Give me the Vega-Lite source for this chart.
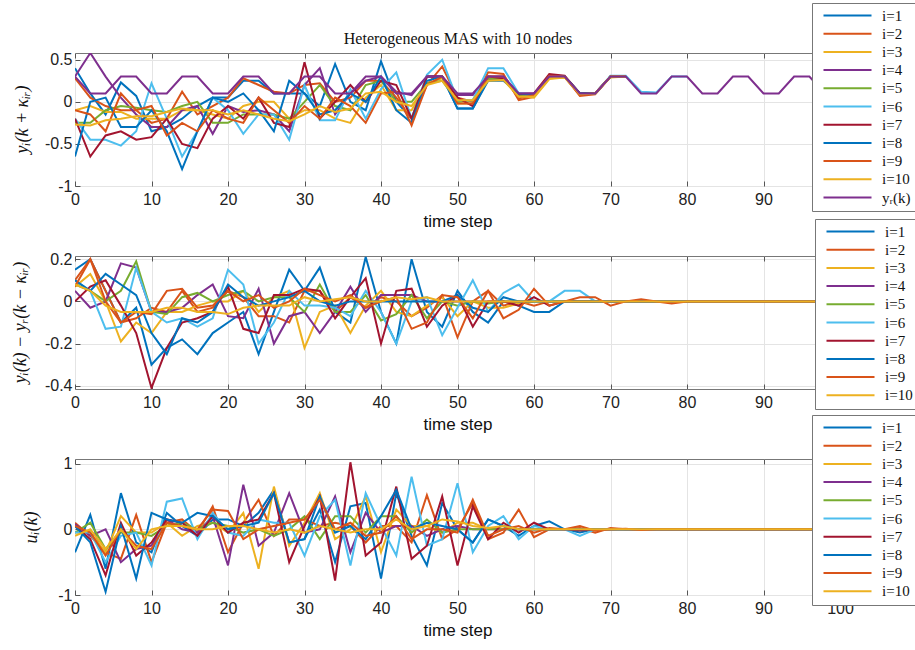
{
"$schema": "https://vega.github.io/schema/vega-lite/v6.json",
"background": "white",
"padding": {"left": 10, "top": 2, "right": 0, "bottom": 5},
"spacing": 70,
"bounds": "flush",
"config": {
 "view": {"stroke": "#777777", "strokeWidth": 1},
 "axis": {"grid": true, "gridColor": "#e4e4e4", "domain": false, "tickColor": "#555555", "tickSize": -5, "labelFlush": false, "labelFont": "Liberation Sans", "labelFontSize": 16, "labelColor": "#222222", "titleFont": "Liberation Sans", "titleFontSize": 17, "titleFontWeight": "normal", "titleColor": "#111111"},
 "legend": {"orient": "none", "title": null, "labelFont": "Liberation Serif", "labelFontSize": 15, "labelColor": "#111111", "symbolType": "M-0.5,0L23.5,0", "symbolSize": 16, "symbolStrokeWidth": 2, "symbolFillColor": "transparent", "strokeColor": "#777777", "fillColor": "white", "padding": 5, "rowPadding": 2.2, "labelOffset": 50},
 "line": {"strokeWidth": 2}
},
"resolve": {"scale": {"color": "independent"}, "legend": {"color": "independent"}},
"datasets": {
"y": [
{"s":1,"t":0,"v":0.4},{"s":1,"t":2,"v":0.1},{"s":1,"t":4,"v":-0.15},{"s":1,"t":6,"v":0.23},{"s":1,"t":8,"v":0.07},{"s":1,"t":10,"v":-0.35},{"s":1,"t":12,"v":-0.3},{"s":1,"t":14,"v":-0.2},{"s":1,"t":16,"v":-0.05},{"s":1,"t":18,"v":0.05},{"s":1,"t":20,"v":0.05},{"s":1,"t":22,"v":0.25},{"s":1,"t":24,"v":0.25},{"s":1,"t":26,"v":0.1},{"s":1,"t":28,"v":0.1},{"s":1,"t":30,"v":0.1},{"s":1,"t":32,"v":-0.05},{"s":1,"t":34,"v":0.45},{"s":1,"t":36,"v":0},{"s":1,"t":38,"v":-0.1},{"s":1,"t":40,"v":0.48},{"s":1,"t":42,"v":0},{"s":1,"t":44,"v":-0.2},{"s":1,"t":46,"v":0.3},{"s":1,"t":48,"v":0.3},{"s":1,"t":50,"v":-0.08},{"s":1,"t":52,"v":-0.08},{"s":1,"t":54,"v":0.27},{"s":1,"t":56,"v":0.27},{"s":1,"t":58,"v":0.08},{"s":1,"t":60,"v":0.08},{"s":1,"t":62,"v":0.29},{"s":1,"t":64,"v":0.3},{"s":1,"t":66,"v":0.1},{"s":1,"t":68,"v":0.1},{"s":1,"t":70,"v":0.3},{"s":1,"t":72,"v":0.3},
{"s":2,"t":0,"v":0.28},{"s":2,"t":2,"v":0.05},{"s":2,"t":4,"v":-0.05},{"s":2,"t":6,"v":-0.1},{"s":2,"t":8,"v":-0.1},{"s":2,"t":10,"v":-0.25},{"s":2,"t":12,"v":-0.2},{"s":2,"t":14,"v":0.12},{"s":2,"t":16,"v":-0.15},{"s":2,"t":18,"v":-0.05},{"s":2,"t":20,"v":0.05},{"s":2,"t":22,"v":0.28},{"s":2,"t":24,"v":0.2},{"s":2,"t":26,"v":0.12},{"s":2,"t":28,"v":0.1},{"s":2,"t":30,"v":0.2},{"s":2,"t":32,"v":0.22},{"s":2,"t":34,"v":0},{"s":2,"t":36,"v":0.05},{"s":2,"t":38,"v":0.25},{"s":2,"t":40,"v":0.25},{"s":2,"t":42,"v":0.05},{"s":2,"t":44,"v":-0.2},{"s":2,"t":46,"v":0.2},{"s":2,"t":48,"v":0.42},{"s":2,"t":50,"v":0.05},{"s":2,"t":52,"v":0},{"s":2,"t":54,"v":0.35},{"s":2,"t":56,"v":0.33},{"s":2,"t":58,"v":0.02},{"s":2,"t":60,"v":0.06},{"s":2,"t":62,"v":0.32},{"s":2,"t":64,"v":0.3},{"s":2,"t":66,"v":0.07},{"s":2,"t":68,"v":0.09},{"s":2,"t":70,"v":0.3},{"s":2,"t":72,"v":0.3},
{"s":3,"t":0,"v":-0.1},{"s":3,"t":2,"v":-0.05},{"s":3,"t":4,"v":-0.12},{"s":3,"t":6,"v":-0.12},{"s":3,"t":8,"v":-0.2},{"s":3,"t":10,"v":-0.2},{"s":3,"t":12,"v":-0.2},{"s":3,"t":14,"v":-0.1},{"s":3,"t":16,"v":-0.1},{"s":3,"t":18,"v":-0.15},{"s":3,"t":20,"v":-0.2},{"s":3,"t":22,"v":-0.05},{"s":3,"t":24,"v":0},{"s":3,"t":26,"v":0},{"s":3,"t":28,"v":-0.2},{"s":3,"t":30,"v":-0.1},{"s":3,"t":32,"v":-0.1},{"s":3,"t":34,"v":-0.2},{"s":3,"t":36,"v":-0.25},{"s":3,"t":38,"v":0.05},{"s":3,"t":40,"v":0.2},{"s":3,"t":42,"v":-0.1},{"s":3,"t":44,"v":-0.1},{"s":3,"t":46,"v":0.22},{"s":3,"t":48,"v":0.28},{"s":3,"t":50,"v":-0.02},{"s":3,"t":52,"v":-0.02},{"s":3,"t":54,"v":0.25},{"s":3,"t":56,"v":0.27},{"s":3,"t":58,"v":0.07},{"s":3,"t":60,"v":0.05},{"s":3,"t":62,"v":0.27},{"s":3,"t":64,"v":0.29},{"s":3,"t":66,"v":0.09},{"s":3,"t":68,"v":0.1},{"s":3,"t":70,"v":0.29},{"s":3,"t":72,"v":0.3},
{"s":4,"t":0,"v":0.3},{"s":4,"t":2,"v":0.58},{"s":4,"t":4,"v":0.3},{"s":4,"t":6,"v":0.05},{"s":4,"t":8,"v":-0.15},{"s":4,"t":10,"v":-0.3},{"s":4,"t":12,"v":-0.3},{"s":4,"t":14,"v":-0.1},{"s":4,"t":16,"v":-0.05},{"s":4,"t":18,"v":-0.38},{"s":4,"t":20,"v":-0.05},{"s":4,"t":22,"v":-0.12},{"s":4,"t":24,"v":-0.1},{"s":4,"t":26,"v":-0.15},{"s":4,"t":28,"v":-0.35},{"s":4,"t":30,"v":0.2},{"s":4,"t":32,"v":0.4},{"s":4,"t":34,"v":-0.15},{"s":4,"t":36,"v":0.1},{"s":4,"t":38,"v":0.25},{"s":4,"t":40,"v":0.3},{"s":4,"t":42,"v":0.12},{"s":4,"t":44,"v":0.08},{"s":4,"t":46,"v":0.3},{"s":4,"t":48,"v":0.3},{"s":4,"t":50,"v":0.08},{"s":4,"t":52,"v":0.08},{"s":4,"t":54,"v":0.3},{"s":4,"t":56,"v":0.3},{"s":4,"t":58,"v":0.1},{"s":4,"t":60,"v":0.1},{"s":4,"t":62,"v":0.3},{"s":4,"t":64,"v":0.3},{"s":4,"t":66,"v":0.1},{"s":4,"t":68,"v":0.1},{"s":4,"t":70,"v":0.3},{"s":4,"t":72,"v":0.3},
{"s":5,"t":0,"v":-0.25},{"s":5,"t":2,"v":-0.25},{"s":5,"t":4,"v":-0.1},{"s":5,"t":6,"v":-0.05},{"s":5,"t":8,"v":-0.07},{"s":5,"t":10,"v":-0.1},{"s":5,"t":12,"v":-0.12},{"s":5,"t":14,"v":-0.05},{"s":5,"t":16,"v":0},{"s":5,"t":18,"v":-0.25},{"s":5,"t":20,"v":-0.25},{"s":5,"t":22,"v":-0.15},{"s":5,"t":24,"v":-0.15},{"s":5,"t":26,"v":-0.15},{"s":5,"t":28,"v":-0.2},{"s":5,"t":30,"v":0},{"s":5,"t":32,"v":0.2},{"s":5,"t":34,"v":-0.05},{"s":5,"t":36,"v":-0.1},{"s":5,"t":38,"v":0.2},{"s":5,"t":40,"v":0.25},{"s":5,"t":42,"v":0},{"s":5,"t":44,"v":0},{"s":5,"t":46,"v":0.22},{"s":5,"t":48,"v":0.25},{"s":5,"t":50,"v":0},{"s":5,"t":52,"v":0.02},{"s":5,"t":54,"v":0.27},{"s":5,"t":56,"v":0.27},{"s":5,"t":58,"v":0.08},{"s":5,"t":60,"v":0.09},{"s":5,"t":62,"v":0.29},{"s":5,"t":64,"v":0.3},{"s":5,"t":66,"v":0.1},{"s":5,"t":68,"v":0.1},{"s":5,"t":70,"v":0.3},{"s":5,"t":72,"v":0.3},
{"s":6,"t":0,"v":-0.2},{"s":6,"t":2,"v":-0.45},{"s":6,"t":4,"v":-0.45},{"s":6,"t":6,"v":-0.52},{"s":6,"t":8,"v":-0.35},{"s":6,"t":10,"v":0.22},{"s":6,"t":12,"v":-0.2},{"s":6,"t":14,"v":-0.65},{"s":6,"t":16,"v":-0.35},{"s":6,"t":18,"v":0.05},{"s":6,"t":20,"v":-0.1},{"s":6,"t":22,"v":-0.38},{"s":6,"t":24,"v":-0.15},{"s":6,"t":26,"v":-0.15},{"s":6,"t":28,"v":-0.45},{"s":6,"t":30,"v":0.2},{"s":6,"t":32,"v":-0.22},{"s":6,"t":34,"v":-0.22},{"s":6,"t":36,"v":0.15},{"s":6,"t":38,"v":-0.2},{"s":6,"t":40,"v":0.15},{"s":6,"t":42,"v":0.35},{"s":6,"t":44,"v":-0.2},{"s":6,"t":46,"v":0.32},{"s":6,"t":48,"v":0.5},{"s":6,"t":50,"v":0.02},{"s":6,"t":52,"v":0.02},{"s":6,"t":54,"v":0.4},{"s":6,"t":56,"v":0.4},{"s":6,"t":58,"v":0.1},{"s":6,"t":60,"v":0.08},{"s":6,"t":62,"v":0.3},{"s":6,"t":64,"v":0.3},{"s":6,"t":66,"v":0.09},{"s":6,"t":68,"v":0.1},{"s":6,"t":70,"v":0.31},{"s":6,"t":72,"v":0.31},{"s":6,"t":74,"v":0.12},{"s":6,"t":76,"v":0.11},{"s":6,"t":78,"v":0.3},{"s":6,"t":80,"v":0.3},
{"s":7,"t":0,"v":-0.2},{"s":7,"t":2,"v":-0.65},{"s":7,"t":4,"v":-0.4},{"s":7,"t":6,"v":-0.35},{"s":7,"t":8,"v":-0.45},{"s":7,"t":10,"v":-0.42},{"s":7,"t":12,"v":-0.2},{"s":7,"t":14,"v":-0.5},{"s":7,"t":16,"v":-0.55},{"s":7,"t":18,"v":-0.2},{"s":7,"t":20,"v":-0.05},{"s":7,"t":22,"v":-0.2},{"s":7,"t":24,"v":0.05},{"s":7,"t":26,"v":-0.25},{"s":7,"t":28,"v":-0.3},{"s":7,"t":30,"v":0.47},{"s":7,"t":32,"v":-0.2},{"s":7,"t":34,"v":0},{"s":7,"t":36,"v":0.2},{"s":7,"t":38,"v":0},{"s":7,"t":40,"v":0.25},{"s":7,"t":42,"v":0.2},{"s":7,"t":44,"v":-0.2},{"s":7,"t":46,"v":0.3},{"s":7,"t":48,"v":0.3},{"s":7,"t":50,"v":0.05},{"s":7,"t":52,"v":-0.05},{"s":7,"t":54,"v":0.3},{"s":7,"t":56,"v":0.28},{"s":7,"t":58,"v":0.09},{"s":7,"t":60,"v":0.1},{"s":7,"t":62,"v":0.33},{"s":7,"t":64,"v":0.31},{"s":7,"t":66,"v":0.1},{"s":7,"t":68,"v":0.1},{"s":7,"t":70,"v":0.3},{"s":7,"t":72,"v":0.3},
{"s":8,"t":0,"v":-0.65},{"s":8,"t":2,"v":0},{"s":8,"t":4,"v":0.05},{"s":8,"t":6,"v":-0.3},{"s":8,"t":8,"v":-0.3},{"s":8,"t":10,"v":-0.1},{"s":8,"t":12,"v":-0.35},{"s":8,"t":14,"v":-0.8},{"s":8,"t":16,"v":-0.35},{"s":8,"t":18,"v":0.05},{"s":8,"t":20,"v":0},{"s":8,"t":22,"v":0.1},{"s":8,"t":24,"v":-0.1},{"s":8,"t":26,"v":-0.35},{"s":8,"t":28,"v":0.25},{"s":8,"t":30,"v":0.1},{"s":8,"t":32,"v":-0.15},{"s":8,"t":34,"v":-0.1},{"s":8,"t":36,"v":0.1},{"s":8,"t":38,"v":0},{"s":8,"t":40,"v":0.3},{"s":8,"t":42,"v":-0.1},{"s":8,"t":44,"v":-0.25},{"s":8,"t":46,"v":0.25},{"s":8,"t":48,"v":0.3},{"s":8,"t":50,"v":-0.08},{"s":8,"t":52,"v":-0.08},{"s":8,"t":54,"v":0.25},{"s":8,"t":56,"v":0.25},{"s":8,"t":58,"v":0.1},{"s":8,"t":60,"v":0.09},{"s":8,"t":62,"v":0.3},{"s":8,"t":64,"v":0.3},{"s":8,"t":66,"v":0.1},{"s":8,"t":68,"v":0.1},{"s":8,"t":70,"v":0.3},{"s":8,"t":72,"v":0.3},
{"s":9,"t":0,"v":-0.1},{"s":9,"t":2,"v":-0.15},{"s":9,"t":4,"v":-0.35},{"s":9,"t":6,"v":0.1},{"s":9,"t":8,"v":-0.1},{"s":9,"t":10,"v":-0.05},{"s":9,"t":12,"v":-0.4},{"s":9,"t":14,"v":-0.25},{"s":9,"t":16,"v":-0.35},{"s":9,"t":18,"v":-0.1},{"s":9,"t":20,"v":-0.2},{"s":9,"t":22,"v":-0.25},{"s":9,"t":24,"v":0.05},{"s":9,"t":26,"v":-0.1},{"s":9,"t":28,"v":-0.25},{"s":9,"t":30,"v":-0.05},{"s":9,"t":32,"v":-0.2},{"s":9,"t":34,"v":0.05},{"s":9,"t":36,"v":-0.05},{"s":9,"t":38,"v":-0.25},{"s":9,"t":40,"v":0.1},{"s":9,"t":42,"v":0.12},{"s":9,"t":44,"v":-0.28},{"s":9,"t":46,"v":0.2},{"s":9,"t":48,"v":0.3},{"s":9,"t":50,"v":-0.02},{"s":9,"t":52,"v":-0.02},{"s":9,"t":54,"v":0.3},{"s":9,"t":56,"v":0.3},{"s":9,"t":58,"v":0.04},{"s":9,"t":60,"v":0.08},{"s":9,"t":62,"v":0.31},{"s":9,"t":64,"v":0.3},{"s":9,"t":66,"v":0.08},{"s":9,"t":68,"v":0.1},{"s":9,"t":70,"v":0.3},{"s":9,"t":72,"v":0.3},
{"s":10,"t":0,"v":-0.27},{"s":10,"t":2,"v":-0.28},{"s":10,"t":4,"v":-0.22},{"s":10,"t":6,"v":-0.2},{"s":10,"t":8,"v":-0.17},{"s":10,"t":10,"v":-0.17},{"s":10,"t":12,"v":-0.12},{"s":10,"t":14,"v":-0.08},{"s":10,"t":16,"v":-0.1},{"s":10,"t":18,"v":-0.1},{"s":10,"t":20,"v":-0.15},{"s":10,"t":22,"v":-0.1},{"s":10,"t":24,"v":-0.15},{"s":10,"t":26,"v":-0.2},{"s":10,"t":28,"v":-0.23},{"s":10,"t":30,"v":-0.15},{"s":10,"t":32,"v":-0.05},{"s":10,"t":34,"v":-0.12},{"s":10,"t":36,"v":-0.08},{"s":10,"t":38,"v":0.1},{"s":10,"t":40,"v":0.12},{"s":10,"t":42,"v":0},{"s":10,"t":44,"v":-0.05},{"s":10,"t":46,"v":0.2},{"s":10,"t":48,"v":0.25},{"s":10,"t":50,"v":0.02},{"s":10,"t":52,"v":0.02},{"s":10,"t":54,"v":0.25},{"s":10,"t":56,"v":0.26},{"s":10,"t":58,"v":0.06},{"s":10,"t":60,"v":0.06},{"s":10,"t":62,"v":0.28},{"s":10,"t":64,"v":0.29},{"s":10,"t":66,"v":0.09},{"s":10,"t":68,"v":0.1},{"s":10,"t":70,"v":0.3},{"s":10,"t":72,"v":0.3},
{"s":11,"t":0,"v":0.3},{"s":11,"t":2,"v":0.1},{"s":11,"t":4,"v":0.1},{"s":11,"t":6,"v":0.3},{"s":11,"t":8,"v":0.3},{"s":11,"t":10,"v":0.1},{"s":11,"t":12,"v":0.1},{"s":11,"t":14,"v":0.3},{"s":11,"t":16,"v":0.3},{"s":11,"t":18,"v":0.1},{"s":11,"t":20,"v":0.1},{"s":11,"t":22,"v":0.3},{"s":11,"t":24,"v":0.3},{"s":11,"t":26,"v":0.1},{"s":11,"t":28,"v":0.1},{"s":11,"t":30,"v":0.3},{"s":11,"t":32,"v":0.3},{"s":11,"t":34,"v":0.1},{"s":11,"t":36,"v":0.1},{"s":11,"t":38,"v":0.3},{"s":11,"t":40,"v":0.3},{"s":11,"t":42,"v":0.1},{"s":11,"t":44,"v":0.1},{"s":11,"t":46,"v":0.3},{"s":11,"t":48,"v":0.3},{"s":11,"t":50,"v":0.1},{"s":11,"t":52,"v":0.1},{"s":11,"t":54,"v":0.3},{"s":11,"t":56,"v":0.3},{"s":11,"t":58,"v":0.1},{"s":11,"t":60,"v":0.1},{"s":11,"t":62,"v":0.3},{"s":11,"t":64,"v":0.3},{"s":11,"t":66,"v":0.1},{"s":11,"t":68,"v":0.1},{"s":11,"t":70,"v":0.3},{"s":11,"t":72,"v":0.3},{"s":11,"t":74,"v":0.1},{"s":11,"t":76,"v":0.1},{"s":11,"t":78,"v":0.3},{"s":11,"t":80,"v":0.3},{"s":11,"t":82,"v":0.1},{"s":11,"t":84,"v":0.1},{"s":11,"t":86,"v":0.3},{"s":11,"t":88,"v":0.3},{"s":11,"t":90,"v":0.1},{"s":11,"t":92,"v":0.1},{"s":11,"t":94,"v":0.3},{"s":11,"t":96,"v":0.3},{"s":11,"t":98,"v":0.1},{"s":11,"t":100,"v":0.1}
],
"e": [
{"s":1,"t":0,"v":0.15},{"s":1,"t":2,"v":0.2},{"s":1,"t":4,"v":0.05},{"s":1,"t":6,"v":-0.1},{"s":1,"t":8,"v":-0.03},{"s":1,"t":10,"v":-0.3},{"s":1,"t":12,"v":-0.22},{"s":1,"t":14,"v":-0.18},{"s":1,"t":16,"v":-0.25},{"s":1,"t":18,"v":-0.15},{"s":1,"t":20,"v":-0.1},{"s":1,"t":22,"v":-0.05},{"s":1,"t":24,"v":-0.25},{"s":1,"t":26,"v":-0.05},{"s":1,"t":28,"v":0.15},{"s":1,"t":30,"v":0.05},{"s":1,"t":32,"v":0.16},{"s":1,"t":34,"v":-0.05},{"s":1,"t":36,"v":-0.1},{"s":1,"t":38,"v":0.21},{"s":1,"t":40,"v":-0.05},{"s":1,"t":42,"v":-0.2},{"s":1,"t":44,"v":0.2},{"s":1,"t":46,"v":-0.05},{"s":1,"t":48,"v":-0.12},{"s":1,"t":50,"v":0.05},{"s":1,"t":52,"v":-0.05},{"s":1,"t":54,"v":-0.1},{"s":1,"t":56,"v":0},{"s":1,"t":58,"v":-0.02},{"s":1,"t":60,"v":-0.05},{"s":1,"t":62,"v":-0.05},{"s":1,"t":64,"v":0},{"s":1,"t":100,"v":0},
{"s":2,"t":0,"v":0.1},{"s":2,"t":2,"v":0.2},{"s":2,"t":4,"v":0.05},{"s":2,"t":6,"v":-0.1},{"s":2,"t":8,"v":-0.08},{"s":2,"t":10,"v":-0.03},{"s":2,"t":12,"v":-0.05},{"s":2,"t":14,"v":0.05},{"s":2,"t":16,"v":-0.05},{"s":2,"t":18,"v":-0.03},{"s":2,"t":20,"v":0.05},{"s":2,"t":22,"v":0.02},{"s":2,"t":24,"v":-0.07},{"s":2,"t":26,"v":-0.07},{"s":2,"t":28,"v":-0.1},{"s":2,"t":30,"v":0.05},{"s":2,"t":32,"v":0.05},{"s":2,"t":34,"v":-0.05},{"s":2,"t":36,"v":0.02},{"s":2,"t":38,"v":-0.03},{"s":2,"t":40,"v":0.02},{"s":2,"t":42,"v":0},{"s":2,"t":44,"v":-0.07},{"s":2,"t":46,"v":-0.03},{"s":2,"t":48,"v":0.03},{"s":2,"t":50,"v":-0.17},{"s":2,"t":52,"v":0},{"s":2,"t":54,"v":0.05},{"s":2,"t":56,"v":-0.02},{"s":2,"t":58,"v":0},{"s":2,"t":60,"v":-0.02},{"s":2,"t":62,"v":0},{"s":2,"t":100,"v":0},
{"s":3,"t":0,"v":0.07},{"s":3,"t":2,"v":0.13},{"s":3,"t":4,"v":0},{"s":3,"t":6,"v":-0.19},{"s":3,"t":8,"v":-0.1},{"s":3,"t":10,"v":-0.15},{"s":3,"t":12,"v":-0.05},{"s":3,"t":14,"v":-0.05},{"s":3,"t":16,"v":-0.02},{"s":3,"t":18,"v":0},{"s":3,"t":20,"v":0},{"s":3,"t":22,"v":0.05},{"s":3,"t":24,"v":-0.05},{"s":3,"t":26,"v":0.02},{"s":3,"t":28,"v":0.05},{"s":3,"t":30,"v":-0.22},{"s":3,"t":32,"v":-0.05},{"s":3,"t":34,"v":-0.02},{"s":3,"t":36,"v":-0.15},{"s":3,"t":38,"v":-0.02},{"s":3,"t":40,"v":0.05},{"s":3,"t":42,"v":-0.05},{"s":3,"t":44,"v":-0.07},{"s":3,"t":46,"v":-0.02},{"s":3,"t":48,"v":0.02},{"s":3,"t":50,"v":-0.07},{"s":3,"t":52,"v":0},{"s":3,"t":54,"v":-0.03},{"s":3,"t":56,"v":-0.03},{"s":3,"t":58,"v":-0.01},{"s":3,"t":60,"v":0},{"s":3,"t":100,"v":0},
{"s":4,"t":0,"v":0.05},{"s":4,"t":2,"v":-0.03},{"s":4,"t":4,"v":0},{"s":4,"t":6,"v":0.18},{"s":4,"t":8,"v":0.16},{"s":4,"t":10,"v":-0.05},{"s":4,"t":12,"v":-0.05},{"s":4,"t":14,"v":-0.03},{"s":4,"t":16,"v":0.03},{"s":4,"t":18,"v":0.08},{"s":4,"t":20,"v":-0.07},{"s":4,"t":22,"v":-0.08},{"s":4,"t":24,"v":0.06},{"s":4,"t":26,"v":-0.2},{"s":4,"t":28,"v":-0.07},{"s":4,"t":30,"v":-0.05},{"s":4,"t":32,"v":-0.15},{"s":4,"t":34,"v":-0.05},{"s":4,"t":36,"v":0.07},{"s":4,"t":38,"v":-0.05},{"s":4,"t":40,"v":0.03},{"s":4,"t":42,"v":0.03},{"s":4,"t":44,"v":0.03},{"s":4,"t":46,"v":0},{"s":4,"t":100,"v":0},
{"s":5,"t":0,"v":0.08},{"s":5,"t":2,"v":0.05},{"s":5,"t":4,"v":0},{"s":5,"t":6,"v":0.05},{"s":5,"t":8,"v":0.19},{"s":5,"t":10,"v":-0.05},{"s":5,"t":12,"v":-0.06},{"s":5,"t":14,"v":0.02},{"s":5,"t":16,"v":0.04},{"s":5,"t":18,"v":0},{"s":5,"t":20,"v":0.03},{"s":5,"t":22,"v":0.05},{"s":5,"t":24,"v":0},{"s":5,"t":26,"v":0.02},{"s":5,"t":28,"v":0.02},{"s":5,"t":30,"v":-0.05},{"s":5,"t":32,"v":0.08},{"s":5,"t":34,"v":-0.05},{"s":5,"t":36,"v":-0.05},{"s":5,"t":38,"v":0.03},{"s":5,"t":40,"v":-0.09},{"s":5,"t":42,"v":-0.06},{"s":5,"t":44,"v":0.03},{"s":5,"t":46,"v":-0.08},{"s":5,"t":48,"v":0},{"s":5,"t":50,"v":-0.02},{"s":5,"t":52,"v":0},{"s":5,"t":54,"v":-0.01},{"s":5,"t":56,"v":0},{"s":5,"t":100,"v":0},
{"s":6,"t":0,"v":0.1},{"s":6,"t":2,"v":0.05},{"s":6,"t":4,"v":-0.13},{"s":6,"t":6,"v":-0.12},{"s":6,"t":8,"v":0.16},{"s":6,"t":10,"v":-0.05},{"s":6,"t":12,"v":-0.1},{"s":6,"t":14,"v":-0.08},{"s":6,"t":16,"v":-0.12},{"s":6,"t":18,"v":-0.08},{"s":6,"t":20,"v":0.15},{"s":6,"t":22,"v":0.08},{"s":6,"t":24,"v":-0.2},{"s":6,"t":26,"v":-0.1},{"s":6,"t":28,"v":0.05},{"s":6,"t":30,"v":-0.02},{"s":6,"t":32,"v":-0.02},{"s":6,"t":34,"v":-0.03},{"s":6,"t":36,"v":-0.07},{"s":6,"t":38,"v":0.05},{"s":6,"t":40,"v":-0.05},{"s":6,"t":42,"v":-0.2},{"s":6,"t":44,"v":0},{"s":6,"t":46,"v":0.02},{"s":6,"t":48,"v":-0.16},{"s":6,"t":50,"v":-0.03},{"s":6,"t":52,"v":0.1},{"s":6,"t":54,"v":-0.05},{"s":6,"t":56,"v":0.04},{"s":6,"t":58,"v":0.08},{"s":6,"t":60,"v":0},{"s":6,"t":62,"v":0},{"s":6,"t":64,"v":0.05},{"s":6,"t":66,"v":0.05},{"s":6,"t":68,"v":0},{"s":6,"t":100,"v":0},
{"s":7,"t":0,"v":0},{"s":7,"t":2,"v":0.07},{"s":7,"t":4,"v":0.1},{"s":7,"t":6,"v":-0.02},{"s":7,"t":8,"v":-0.15},{"s":7,"t":10,"v":-0.41},{"s":7,"t":12,"v":-0.22},{"s":7,"t":14,"v":-0.1},{"s":7,"t":16,"v":-0.08},{"s":7,"t":18,"v":-0.05},{"s":7,"t":20,"v":0.07},{"s":7,"t":22,"v":-0.13},{"s":7,"t":24,"v":-0.15},{"s":7,"t":26,"v":0.03},{"s":7,"t":28,"v":0.03},{"s":7,"t":30,"v":0.06},{"s":7,"t":32,"v":0.05},{"s":7,"t":34,"v":-0.08},{"s":7,"t":36,"v":0.02},{"s":7,"t":38,"v":0.11},{"s":7,"t":40,"v":-0.2},{"s":7,"t":42,"v":0.05},{"s":7,"t":44,"v":0.06},{"s":7,"t":46,"v":-0.12},{"s":7,"t":48,"v":-0.02},{"s":7,"t":50,"v":0.03},{"s":7,"t":52,"v":-0.12},{"s":7,"t":54,"v":0},{"s":7,"t":56,"v":0},{"s":7,"t":58,"v":-0.02},{"s":7,"t":60,"v":0.02},{"s":7,"t":62,"v":-0.02},{"s":7,"t":64,"v":0},{"s":7,"t":100,"v":0},
{"s":8,"t":0,"v":0.1},{"s":8,"t":2,"v":0.05},{"s":8,"t":4,"v":0.13},{"s":8,"t":6,"v":0.08},{"s":8,"t":8,"v":0.03},{"s":8,"t":10,"v":-0.15},{"s":8,"t":12,"v":-0.25},{"s":8,"t":14,"v":-0.08},{"s":8,"t":16,"v":-0.1},{"s":8,"t":18,"v":-0.05},{"s":8,"t":20,"v":0.08},{"s":8,"t":22,"v":0.02},{"s":8,"t":24,"v":-0.02},{"s":8,"t":26,"v":0},{"s":8,"t":28,"v":0.02},{"s":8,"t":30,"v":0.05},{"s":8,"t":32,"v":0},{"s":8,"t":34,"v":-0.02},{"s":8,"t":36,"v":0},{"s":8,"t":48,"v":0},{"s":8,"t":50,"v":0.03},{"s":8,"t":52,"v":-0.03},{"s":8,"t":54,"v":-0.05},{"s":8,"t":56,"v":0.02},{"s":8,"t":58,"v":0},{"s":8,"t":100,"v":0},
{"s":9,"t":0,"v":0.07},{"s":9,"t":2,"v":0.2},{"s":9,"t":4,"v":0},{"s":9,"t":6,"v":-0.1},{"s":9,"t":8,"v":-0.05},{"s":9,"t":10,"v":-0.06},{"s":9,"t":12,"v":0.05},{"s":9,"t":14,"v":0.06},{"s":9,"t":16,"v":-0.03},{"s":9,"t":18,"v":-0.02},{"s":9,"t":20,"v":0.05},{"s":9,"t":22,"v":0},{"s":9,"t":24,"v":0.03},{"s":9,"t":26,"v":-0.03},{"s":9,"t":28,"v":0},{"s":9,"t":30,"v":0.06},{"s":9,"t":32,"v":0.03},{"s":9,"t":34,"v":0},{"s":9,"t":36,"v":0.03},{"s":9,"t":38,"v":-0.03},{"s":9,"t":40,"v":0},{"s":9,"t":42,"v":0.02},{"s":9,"t":44,"v":-0.13},{"s":9,"t":46,"v":-0.1},{"s":9,"t":48,"v":0.03},{"s":9,"t":50,"v":0.02},{"s":9,"t":52,"v":-0.08},{"s":9,"t":54,"v":0.05},{"s":9,"t":56,"v":-0.08},{"s":9,"t":58,"v":-0.04},{"s":9,"t":60,"v":0.06},{"s":9,"t":62,"v":-0.02},{"s":9,"t":64,"v":0},{"s":9,"t":66,"v":0.02},{"s":9,"t":68,"v":0.02},{"s":9,"t":70,"v":-0.02},{"s":9,"t":72,"v":0},{"s":9,"t":74,"v":0.01},{"s":9,"t":76,"v":0},{"s":9,"t":78,"v":-0.01},{"s":9,"t":80,"v":0},{"s":9,"t":100,"v":0},
{"s":10,"t":0,"v":0.08},{"s":10,"t":2,"v":0.05},{"s":10,"t":4,"v":-0.02},{"s":10,"t":6,"v":-0.05},{"s":10,"t":8,"v":-0.05},{"s":10,"t":10,"v":-0.05},{"s":10,"t":12,"v":-0.03},{"s":10,"t":14,"v":-0.03},{"s":10,"t":16,"v":-0.05},{"s":10,"t":18,"v":-0.05},{"s":10,"t":20,"v":-0.06},{"s":10,"t":22,"v":-0.03},{"s":10,"t":24,"v":-0.02},{"s":10,"t":26,"v":-0.02},{"s":10,"t":28,"v":-0.02},{"s":10,"t":30,"v":0.02},{"s":10,"t":32,"v":0},{"s":10,"t":34,"v":0.01},{"s":10,"t":36,"v":0.02},{"s":10,"t":38,"v":0},{"s":10,"t":40,"v":0},{"s":10,"t":42,"v":0.02},{"s":10,"t":44,"v":0.01},{"s":10,"t":46,"v":0.02},{"s":10,"t":48,"v":0},{"s":10,"t":100,"v":0}
],
"u": [
{"s":1,"t":0,"v":-0.35},{"s":1,"t":2,"v":0.22},{"s":1,"t":4,"v":-0.6},{"s":1,"t":6,"v":0.55},{"s":1,"t":8,"v":-0.2},{"s":1,"t":10,"v":-0.35},{"s":1,"t":12,"v":0.25},{"s":1,"t":14,"v":0.05},{"s":1,"t":16,"v":-0.1},{"s":1,"t":18,"v":0.15},{"s":1,"t":20,"v":0.15},{"s":1,"t":22,"v":0.05},{"s":1,"t":24,"v":0.25},{"s":1,"t":26,"v":0.6},{"s":1,"t":28,"v":-0.2},{"s":1,"t":30,"v":-0.15},{"s":1,"t":32,"v":0.3},{"s":1,"t":34,"v":-0.5},{"s":1,"t":36,"v":0.35},{"s":1,"t":38,"v":0.4},{"s":1,"t":40,"v":-0.75},{"s":1,"t":42,"v":0.55},{"s":1,"t":44,"v":-0.1},{"s":1,"t":46,"v":-0.55},{"s":1,"t":48,"v":0.4},{"s":1,"t":50,"v":0},{"s":1,"t":52,"v":-0.2},{"s":1,"t":54,"v":0.15},{"s":1,"t":56,"v":0.05},{"s":1,"t":58,"v":-0.1},{"s":1,"t":60,"v":0.05},{"s":1,"t":62,"v":0.12},{"s":1,"t":64,"v":0},{"s":1,"t":66,"v":-0.05},{"s":1,"t":68,"v":0},{"s":1,"t":100,"v":0},
{"s":2,"t":0,"v":0.1},{"s":2,"t":2,"v":-0.1},{"s":2,"t":4,"v":-0.35},{"s":2,"t":6,"v":-0.45},{"s":2,"t":8,"v":0.22},{"s":2,"t":10,"v":-0.5},{"s":2,"t":12,"v":0.1},{"s":2,"t":14,"v":0.15},{"s":2,"t":16,"v":-0.05},{"s":2,"t":18,"v":0.35},{"s":2,"t":20,"v":-0.35},{"s":2,"t":22,"v":0.1},{"s":2,"t":24,"v":0.45},{"s":2,"t":26,"v":-0.1},{"s":2,"t":28,"v":0.15},{"s":2,"t":30,"v":0.15},{"s":2,"t":32,"v":0.05},{"s":2,"t":34,"v":0.1},{"s":2,"t":36,"v":0.05},{"s":2,"t":38,"v":-0.2},{"s":2,"t":40,"v":0.05},{"s":2,"t":42,"v":0.05},{"s":2,"t":44,"v":-0.2},{"s":2,"t":46,"v":0.52},{"s":2,"t":48,"v":-0.15},{"s":2,"t":50,"v":0},{"s":2,"t":52,"v":0.4},{"s":2,"t":54,"v":-0.15},{"s":2,"t":56,"v":-0.05},{"s":2,"t":58,"v":0.3},{"s":2,"t":60,"v":-0.12},{"s":2,"t":62,"v":0},{"s":2,"t":64,"v":0},{"s":2,"t":66,"v":0.02},{"s":2,"t":68,"v":-0.05},{"s":2,"t":70,"v":0.02},{"s":2,"t":72,"v":0},{"s":2,"t":100,"v":0},
{"s":3,"t":0,"v":-0.05},{"s":3,"t":2,"v":-0.05},{"s":3,"t":4,"v":-0.35},{"s":3,"t":6,"v":0.2},{"s":3,"t":8,"v":-0.05},{"s":3,"t":10,"v":-0.05},{"s":3,"t":12,"v":0.1},{"s":3,"t":14,"v":-0.1},{"s":3,"t":16,"v":0.05},{"s":3,"t":18,"v":0.1},{"s":3,"t":20,"v":-0.05},{"s":3,"t":22,"v":0.25},{"s":3,"t":24,"v":-0.6},{"s":3,"t":26,"v":0.65},{"s":3,"t":28,"v":-0.25},{"s":3,"t":30,"v":0.1},{"s":3,"t":32,"v":0.55},{"s":3,"t":34,"v":-0.15},{"s":3,"t":36,"v":0},{"s":3,"t":38,"v":0.5},{"s":3,"t":40,"v":-0.35},{"s":3,"t":42,"v":0.3},{"s":3,"t":44,"v":0.05},{"s":3,"t":46,"v":0.05},{"s":3,"t":48,"v":-0.05},{"s":3,"t":50,"v":0.1},{"s":3,"t":52,"v":0.1},{"s":3,"t":54,"v":0},{"s":3,"t":56,"v":0.05},{"s":3,"t":58,"v":0},{"s":3,"t":100,"v":0},
{"s":4,"t":0,"v":0.08},{"s":4,"t":2,"v":-0.1},{"s":4,"t":4,"v":0},{"s":4,"t":6,"v":-0.5},{"s":4,"t":8,"v":-0.3},{"s":4,"t":10,"v":-0.25},{"s":4,"t":12,"v":0.15},{"s":4,"t":14,"v":0},{"s":4,"t":16,"v":-0.05},{"s":4,"t":18,"v":0.2},{"s":4,"t":20,"v":-0.55},{"s":4,"t":22,"v":0.68},{"s":4,"t":24,"v":-0.25},{"s":4,"t":26,"v":-0.05},{"s":4,"t":28,"v":0.55},{"s":4,"t":30,"v":-0.05},{"s":4,"t":32,"v":0},{"s":4,"t":34,"v":0.5},{"s":4,"t":36,"v":-0.35},{"s":4,"t":38,"v":0.25},{"s":4,"t":40,"v":-0.05},{"s":4,"t":42,"v":0.05},{"s":4,"t":44,"v":0.05},{"s":4,"t":46,"v":-0.1},{"s":4,"t":48,"v":0},{"s":4,"t":50,"v":0.05},{"s":4,"t":52,"v":0},{"s":4,"t":100,"v":0},
{"s":5,"t":0,"v":-0.05},{"s":5,"t":2,"v":0.1},{"s":5,"t":4,"v":-0.3},{"s":5,"t":6,"v":-0.05},{"s":5,"t":8,"v":-0.05},{"s":5,"t":10,"v":-0.1},{"s":5,"t":12,"v":0.05},{"s":5,"t":14,"v":0.1},{"s":5,"t":16,"v":0},{"s":5,"t":18,"v":0.1},{"s":5,"t":20,"v":0.05},{"s":5,"t":22,"v":-0.05},{"s":5,"t":24,"v":0},{"s":5,"t":26,"v":-0.1},{"s":5,"t":28,"v":0},{"s":5,"t":30,"v":0.2},{"s":5,"t":32,"v":-0.15},{"s":5,"t":34,"v":0.2},{"s":5,"t":36,"v":0.2},{"s":5,"t":38,"v":-0.05},{"s":5,"t":40,"v":0.2},{"s":5,"t":42,"v":0.2},{"s":5,"t":44,"v":-0.05},{"s":5,"t":46,"v":0.15},{"s":5,"t":48,"v":-0.05},{"s":5,"t":50,"v":0},{"s":5,"t":100,"v":0},
{"s":6,"t":0,"v":-0.05},{"s":6,"t":2,"v":-0.05},{"s":6,"t":4,"v":-0.5},{"s":6,"t":6,"v":-0.1},{"s":6,"t":8,"v":-0.05},{"s":6,"t":10,"v":-0.55},{"s":6,"t":12,"v":0.42},{"s":6,"t":14,"v":0.47},{"s":6,"t":16,"v":-0.15},{"s":6,"t":18,"v":0.25},{"s":6,"t":20,"v":-0.05},{"s":6,"t":22,"v":-0.1},{"s":6,"t":24,"v":0.15},{"s":6,"t":26,"v":0.1},{"s":6,"t":28,"v":0.1},{"s":6,"t":30,"v":-0.4},{"s":6,"t":32,"v":0.2},{"s":6,"t":34,"v":0.45},{"s":6,"t":36,"v":-0.55},{"s":6,"t":38,"v":0.55},{"s":6,"t":40,"v":0.05},{"s":6,"t":42,"v":-0.4},{"s":6,"t":44,"v":0.8},{"s":6,"t":46,"v":-0.25},{"s":6,"t":48,"v":-0.15},{"s":6,"t":50,"v":0.7},{"s":6,"t":52,"v":-0.35},{"s":6,"t":54,"v":0.05},{"s":6,"t":56,"v":0.2},{"s":6,"t":58,"v":-0.15},{"s":6,"t":60,"v":0.05},{"s":6,"t":62,"v":0},{"s":6,"t":64,"v":0},{"s":6,"t":66,"v":-0.1},{"s":6,"t":68,"v":0},{"s":6,"t":100,"v":0},
{"s":7,"t":0,"v":0.05},{"s":7,"t":2,"v":-0.15},{"s":7,"t":4,"v":-0.7},{"s":7,"t":6,"v":0.1},{"s":7,"t":8,"v":-0.4},{"s":7,"t":10,"v":-0.2},{"s":7,"t":12,"v":0.15},{"s":7,"t":14,"v":0.1},{"s":7,"t":16,"v":-0.1},{"s":7,"t":18,"v":0.2},{"s":7,"t":20,"v":-0.05},{"s":7,"t":22,"v":0.1},{"s":7,"t":24,"v":0.15},{"s":7,"t":26,"v":0.55},{"s":7,"t":28,"v":-0.5},{"s":7,"t":30,"v":0.05},{"s":7,"t":32,"v":0.5},{"s":7,"t":34,"v":-0.78},{"s":7,"t":36,"v":1.02},{"s":7,"t":38,"v":-0.4},{"s":7,"t":40,"v":-0.2},{"s":7,"t":42,"v":0.65},{"s":7,"t":44,"v":-0.45},{"s":7,"t":46,"v":-0.25},{"s":7,"t":48,"v":0.5},{"s":7,"t":50,"v":-0.55},{"s":7,"t":52,"v":0.35},{"s":7,"t":54,"v":-0.15},{"s":7,"t":56,"v":0.1},{"s":7,"t":58,"v":-0.05},{"s":7,"t":60,"v":0.1},{"s":7,"t":62,"v":0},{"s":7,"t":64,"v":0},{"s":7,"t":66,"v":-0.02},{"s":7,"t":68,"v":0},{"s":7,"t":100,"v":0},
{"s":8,"t":0,"v":0.05},{"s":8,"t":2,"v":-0.2},{"s":8,"t":4,"v":-0.95},{"s":8,"t":6,"v":0.05},{"s":8,"t":8,"v":-0.75},{"s":8,"t":10,"v":0.25},{"s":8,"t":12,"v":0.15},{"s":8,"t":14,"v":0.1},{"s":8,"t":16,"v":0.25},{"s":8,"t":18,"v":0.2},{"s":8,"t":20,"v":0},{"s":8,"t":22,"v":0.05},{"s":8,"t":24,"v":0.1},{"s":8,"t":26,"v":0.55},{"s":8,"t":28,"v":-0.2},{"s":8,"t":30,"v":-0.15},{"s":8,"t":32,"v":0.5},{"s":8,"t":34,"v":-0.05},{"s":8,"t":36,"v":0.05},{"s":8,"t":38,"v":-0.15},{"s":8,"t":40,"v":0.2},{"s":8,"t":42,"v":0.6},{"s":8,"t":44,"v":0},{"s":8,"t":46,"v":0.1},{"s":8,"t":48,"v":0.05},{"s":8,"t":50,"v":0},{"s":8,"t":52,"v":-0.2},{"s":8,"t":54,"v":0.15},{"s":8,"t":56,"v":0.05},{"s":8,"t":58,"v":0},{"s":8,"t":100,"v":0},
{"s":9,"t":0,"v":0.05},{"s":9,"t":2,"v":-0.05},{"s":9,"t":4,"v":-0.4},{"s":9,"t":6,"v":0},{"s":9,"t":8,"v":-0.25},{"s":9,"t":10,"v":-0.3},{"s":9,"t":12,"v":0.1},{"s":9,"t":14,"v":0.05},{"s":9,"t":16,"v":0},{"s":9,"t":18,"v":0.3},{"s":9,"t":20,"v":0.28},{"s":9,"t":22,"v":-0.15},{"s":9,"t":24,"v":0},{"s":9,"t":26,"v":0.05},{"s":9,"t":28,"v":0.1},{"s":9,"t":30,"v":0.15},{"s":9,"t":32,"v":0.45},{"s":9,"t":34,"v":0},{"s":9,"t":36,"v":0.1},{"s":9,"t":38,"v":-0.1},{"s":9,"t":40,"v":-0.05},{"s":9,"t":42,"v":0.2},{"s":9,"t":44,"v":-0.15},{"s":9,"t":46,"v":0},{"s":9,"t":48,"v":0},{"s":9,"t":50,"v":-0.05},{"s":9,"t":52,"v":0.45},{"s":9,"t":54,"v":-0.1},{"s":9,"t":56,"v":0},{"s":9,"t":58,"v":0.05},{"s":9,"t":60,"v":-0.05},{"s":9,"t":62,"v":0.02},{"s":9,"t":64,"v":0},{"s":9,"t":66,"v":0.05},{"s":9,"t":68,"v":-0.02},{"s":9,"t":70,"v":0},{"s":9,"t":72,"v":0.01},{"s":9,"t":74,"v":-0.01},{"s":9,"t":76,"v":0},{"s":9,"t":100,"v":0},
{"s":10,"t":0,"v":-0.1},{"s":10,"t":2,"v":0},{"s":10,"t":4,"v":-0.3},{"s":10,"t":6,"v":0},{"s":10,"t":8,"v":-0.3},{"s":10,"t":10,"v":0},{"s":10,"t":12,"v":0.05},{"s":10,"t":14,"v":0.05},{"s":10,"t":16,"v":0},{"s":10,"t":18,"v":0},{"s":10,"t":20,"v":0.05},{"s":10,"t":22,"v":0.05},{"s":10,"t":24,"v":0},{"s":10,"t":26,"v":-0.05},{"s":10,"t":28,"v":0},{"s":10,"t":30,"v":-0.05},{"s":10,"t":32,"v":0.05},{"s":10,"t":34,"v":0},{"s":10,"t":36,"v":-0.05},{"s":10,"t":38,"v":0},{"s":10,"t":40,"v":0},{"s":10,"t":42,"v":0.15},{"s":10,"t":44,"v":0},{"s":10,"t":46,"v":0.05},{"s":10,"t":48,"v":0.15},{"s":10,"t":50,"v":0.12},{"s":10,"t":52,"v":0.05},{"s":10,"t":54,"v":0.02},{"s":10,"t":56,"v":0.05},{"s":10,"t":58,"v":0},{"s":10,"t":100,"v":0}
]
},
"vconcat": [
{
 "width": 765, "height": 133,
 "data": {"name": "y"},
 "resolve": {"axis": {"x": "independent"}},
 "layer": [
  {
   "mark": {"type": "line", "clip": true},
   "encoding": {
    "x": {"field": "t", "type": "quantitative", "scale": {"domain": [0, 100], "nice": false}, "axis": {"values": [0,10,20,30,40,50,60,70,80,90,100], "labelExpr": "datum.value + ''", "title": "time step", "labelPadding": 10, "titlePadding": 6}},
    "y": {"field": "v", "type": "quantitative", "scale": {"domain": [-1, 0.58], "nice": false, "zero": false}, "axis": {"values": [-1,-0.5,0,0.5], "labelExpr": "datum.value + ''", "labelPadding": 8, "title": "yᵢ(k + κᵢᵣ)", "titleFont": "Liberation Serif", "titleFontStyle": "italic", "titleFontSize": 18, "titleX": -53, "titleY": 66, "titleAngle": -90, "titleBaseline": "middle", "titleAlign": "center"}},
    "color": {"field": "s", "type": "nominal", "scale": {"domain": [1,2,3,4,5,6,7,8,9,10,11], "range": ["#0072BD","#D95319","#EDB120","#7E2F8E","#77AC30","#4DBEEE","#A2142F","#0072BD","#D95319","#EDB120","#7E2F8E"]}, "legend": {"legendX": 737, "legendY": -50, "labelExpr": "datum.value == 11 ? 'yᵣ(k)' : 'i=' + datum.value", "encode": {"labels": {"update": {"fontStyle": {"signal": "datum.value == 11 ? 'italic' : 'normal'"}}}}}}
   }
  },
  {
   "transform": [{"filter": "datum.s == 11"}],
   "mark": {"type": "rule", "strokeOpacity": 0},
   "encoding": {
    "x": {"field": "t", "type": "quantitative", "axis": {"orient": "top", "values": [0,10,20,30,40,50,60,70,80,90,100], "labels": false, "grid": false, "title": "Heterogeneous MAS with 10 nodes", "titleFont": "Liberation Serif", "titleFontSize": 16, "titlePadding": 6}}
   }
  }
 ]
},
{
 "width": 765, "height": 133,
 "data": {"name": "e"},
 "resolve": {"axis": {"x": "independent"}},
 "layer": [
  {
   "mark": {"type": "line", "clip": true},
   "encoding": {
    "x": {"field": "t", "type": "quantitative", "scale": {"domain": [0, 100], "nice": false}, "axis": {"values": [0,10,20,30,40,50,60,70,80,90,100], "labelExpr": "datum.value + ''", "title": "time step", "labelPadding": 10, "titlePadding": 6}},
    "y": {"field": "v", "type": "quantitative", "scale": {"domain": [-0.415, 0.215], "nice": false, "zero": false}, "axis": {"values": [-0.4,-0.2,0,0.2], "labelExpr": "datum.value + ''", "labelPadding": 8, "title": "yᵢ(k) − yᵣ(k − κᵢᵣ)", "titleFont": "Liberation Serif", "titleFontStyle": "italic", "titleFontSize": 18, "titleX": -55, "titleY": 66, "titleAngle": -90, "titleBaseline": "middle", "titleAlign": "center"}},
    "color": {"field": "s", "type": "nominal", "scale": {"domain": [1,2,3,4,5,6,7,8,9,10], "range": ["#0072BD","#D95319","#EDB120","#7E2F8E","#77AC30","#4DBEEE","#A2142F","#0072BD","#D95319","#EDB120"]}, "legend": {"legendX": 740, "legendY": -37, "labelExpr": "'i=' + datum.value"}}
   }
  },
  {
   "transform": [{"filter": "datum.s == 10"}],
   "mark": {"type": "rule", "strokeOpacity": 0},
   "encoding": {
    "x": {"field": "t", "type": "quantitative", "axis": {"orient": "top", "values": [0,10,20,30,40,50,60,70,80,90,100], "labels": false, "grid": false, "title": null}}
   }
  }
 ]
},
{
 "width": 765, "height": 136,
 "data": {"name": "u"},
 "resolve": {"axis": {"x": "independent"}},
 "layer": [
  {
   "mark": {"type": "line", "clip": true},
   "encoding": {
    "x": {"field": "t", "type": "quantitative", "scale": {"domain": [0, 100], "nice": false}, "axis": {"values": [0,10,20,30,40,50,60,70,80,90,100], "labelExpr": "datum.value + ''", "title": "time step", "labelPadding": 10, "titlePadding": 6}},
    "y": {"field": "v", "type": "quantitative", "scale": {"domain": [-1, 1.07], "nice": false, "zero": false}, "axis": {"values": [-1,0,1], "labelExpr": "datum.value + ''", "labelPadding": 8, "title": "uᵢ(k)", "titleFont": "Liberation Serif", "titleFontStyle": "italic", "titleFontSize": 18, "titleX": -44, "titleY": 68, "titleAngle": -90, "titleBaseline": "middle", "titleAlign": "center"}},
    "color": {"field": "s", "type": "nominal", "scale": {"domain": [1,2,3,4,5,6,7,8,9,10], "range": ["#0072BD","#D95319","#EDB120","#7E2F8E","#77AC30","#4DBEEE","#A2142F","#0072BD","#D95319","#EDB120"]}, "legend": {"legendX": 737, "legendY": -44, "labelExpr": "'i=' + datum.value"}}
   }
  },
  {
   "transform": [{"filter": "datum.s == 10"}],
   "mark": {"type": "rule", "strokeOpacity": 0},
   "encoding": {
    "x": {"field": "t", "type": "quantitative", "axis": {"orient": "top", "values": [0,10,20,30,40,50,60,70,80,90,100], "labels": false, "grid": false, "title": null}}
   }
  }
 ]
}
]
}
